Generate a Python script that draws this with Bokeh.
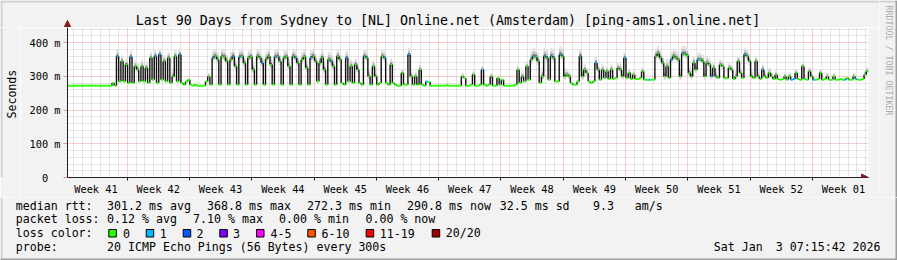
import math
from datetime import datetime, timedelta

from bokeh.plotting import figure
from bokeh.layouts import column, row
from bokeh.models import FixedTicker, Arrow, NormalHead, Range1d, ColumnDataSource
from bokeh.core.properties import value
from bokeh.embed import file_html
from bokeh.resources import INLINE

# ---------------------------------------------------------------- data
TITLE = "Last 90 Days from Sydney to [NL] Online.net (Amsterdam) [ping-ams1.online.net]"
END_TIME = datetime(2026, 1, 3, 7, 15, 42)
N_DAYS = 90
SLOTS_PER_DAY = 4          # one median value per 6 hours

# median rtt (ms), one row per day, 4 six-hour values per row
median_ms = [
    [272, 272, 272, 272], [272, 272, 272, 272], [272, 272, 273, 272], [272, 272, 272, 272],
    [272, 272, 272, 272], [280, 272, 360, 285], [345, 285, 335, 280], [358, 280, 330, 320],
    [285, 330, 285, 325], [280, 355, 290, 360], [280, 365, 290, 345], [285, 355, 280, 300],
    [360, 285, 365, 280], [275, 285, 290, 275], [272, 275, 272, 272], [272, 272, 285, 300],
    [275, 355, 360, 350], [275, 360, 358, 345], [275, 350, 360, 330], [275, 358, 360, 340],
    [275, 355, 358, 320], [275, 360, 355, 340], [275, 352, 360, 335], [275, 358, 360, 345],
    [275, 355, 358, 330], [275, 360, 355, 340], [275, 350, 358, 325], [275, 355, 360, 345],
    [285, 340, 355, 320], [275, 350, 345, 330], [275, 360, 350, 280], [275, 355, 285, 330],
    [280, 335, 320, 280], [275, 360, 355, 300], [275, 330, 300, 275], [280, 360, 355, 280],
    [275, 335, 280, 275], [272, 272, 310, 275], [275, 365, 300, 275], [300, 275, 320, 275],
    [272, 285, 283, 272], [272, 272, 272, 272], [272, 272, 274, 272], [272, 272, 272, 272],
    [272, 300, 295, 272], [272, 275, 305, 272], [272, 275, 320, 275], [272, 275, 300, 272],
    [272, 295, 275, 290], [272, 272, 272, 272], [272, 275, 320, 280], [300, 285, 330, 290],
    [350, 360, 358, 345], [280, 300, 360, 355], [290, 360, 355, 285], [285, 365, 360, 300],
    [305, 300, 280, 275], [275, 285, 360, 300], [320, 310, 285, 280], [285, 340, 320, 290],
    [320, 295, 315, 292], [320, 292, 295, 325], [320, 300, 355, 295], [310, 292, 305, 292],
    [292, 295, 315, 290], [290, 290, 290, 290], [360, 368, 355, 340], [300, 330, 295, 350],
    [360, 355, 350, 300], [368, 366, 362, 310], [300, 340, 320, 350], [350, 345, 300, 340],
    [335, 300, 325, 300], [295, 335, 330, 295], [295, 325, 320, 292], [300, 345, 310, 295],
    [365, 360, 345, 300], [295, 345, 300, 292], [320, 300, 295, 310], [300, 292, 305, 292],
    [290, 292, 300, 290], [300, 290, 292, 310], [292, 290, 330, 292], [290, 315, 300, 290],
    [290, 292, 310, 290], [292, 300, 290, 290], [300, 290, 290, 292], [290, 290, 295, 290],
    [290, 300, 292, 290], [290, 292, 305, 315],
]

# (day, slot) samples where 1 of 20 pings was lost
loss1_samples = [
    (5, 2), (7, 0), (9, 3), (10, 1), (12, 2), (16, 1), (18, 2), (19, 1), (21, 3), (23, 1),
    (25, 2), (27, 1), (29, 2), (31, 1), (33, 1), (35, 2), (38, 1), (40, 1), (46, 2), (52, 1),
    (53, 2), (54, 1), (55, 1), (57, 2), (59, 1), (62, 2), (65, 1), (67, 3), (69, 0), (70, 3),
    (72, 1), (76, 0), (78, 0), (81, 1), (81, 2), (83, 3), (87, 1), (88, 2),
]

# approximate ping spread (ms) per day, drawn as smoke
smoke_spread_ms = [
    4, 4, 4, 4, 4, 18, 18, 18, 18, 18,
    18, 18, 18, 10, 6, 10, 22, 22, 22, 22,
    22, 22, 22, 22, 22, 22, 22, 22, 24, 24,
    20, 20, 18, 20, 18, 20, 18, 12, 20, 15,
    10, 4, 4, 4, 10, 12, 12, 10, 10, 6,
    12, 15, 25, 25, 25, 25, 15, 22, 15, 18,
    15, 15, 18, 12, 12, 6, 22, 22, 22, 24,
    20, 20, 18, 16, 15, 16, 20, 15, 15, 12,
    12, 12, 12, 12, 12, 10, 10, 10, 10, 12,
]

y_ticks = [0, 100, 200, 300, 400]
y_tick_labels = ["0\u00a0\u00a0", "100 m", "200 m", "300 m", "400 m"]
week_labels = ["Week 41", "Week 42", "Week 43", "Week 44", "Week 45", "Week 46", "Week 47",
               "Week 48", "Week 49", "Week 50", "Week 51", "Week 52", "Week 01"]

loss_labels = ["0", "1", "2", "3", "4-5", "6-10", "11-19", "20/20"]
loss_colors = ["#26ff00", "#00b8ff", "#0059ff", "#7e00ff", "#ff00ff", "#ff5500", "#ff0000", "#a10000"]

legend_rtt = ["median rtt:", "301.2 ms avg", "368.8 ms max", "272.3 ms min", "290.8 ms now",
              "32.5 ms sd", "9.3", "am/s"]
legend_loss = ["packet loss:", "0.12 % avg", "7.10 % max", "0.00 % min", "0.00 % now"]
legend_probe = ["probe:", "20 ICMP Echo Pings (56 Bytes) every 300s"]
date_parts = ["Sat Jan", "3 07:15:42 2026"]
watermark = "RRDTOOL / TOBI OETIKER"
y_title = "Seconds"

# ---------------------------------------------------------------- layout (pixels)
W, H = 897, 260
FL, FR, FT, FB = 67, 868, 27, 179      # plot area in page pixels
TOP_H = 197                            # graph part (title + plot + week labels)
RIGHT_X = 879                          # start of the watermark strip
LEFT_W = 20                            # strip holding the y title
Y_MAX = 445
MONO = "DejaVu Sans Mono"
BACK = "#f2f2f2"
SHADE_A, SHADE_B = "#cfcfcf", "#9e9e9e"
ARROW_C = "#801f1f"
BASE_FIX = 3.0                         # alphabetic baseline correction of the renderer

start_time = END_TIME - timedelta(days=N_DAYS)


def day_offset(t):
    return (t - start_time).total_seconds() / 86400.0


first_midnight = datetime(start_time.year, start_time.month, start_time.day) + timedelta(days=1)
midnights = [day_offset(first_midnight + timedelta(days=k)) for k in range(N_DAYS)]
midnights = [m for m in midnights if m < N_DAYS]
first_sunday = first_midnight
while first_sunday.weekday() != 6:
    first_sunday += timedelta(days=1)
sundays = [day_offset(first_sunday + timedelta(days=7 * k)) for k in range(14)]
sundays = [s for s in sundays if s < N_DAYS]
week_pos = [round(day_offset(first_sunday) - 3.5 + 7 * k, 4) for k in range(len(week_labels))]
minor_days = [m for m in midnights if all(abs(m - s) > 1e-6 for s in sundays)]

# ---------------------------------------------------------------- series
loss1 = set(loss1_samples)
t0, t1, med, col, lw = [], [], [], [], []
for d, day_vals in enumerate(median_ms):
    for s, v in enumerate(day_vals):
        j = d * SLOTS_PER_DAY + s
        t0.append(j / SLOTS_PER_DAY)
        t1.append((j + 1) / SLOTS_PER_DAY)
        med.append(v)
        col.append(loss_colors[1] if (d, s) in loss1 else loss_colors[0])
        lw.append(2.0 if v < 300 else 1.3)

vx, vy0, vy1 = [], [], []
for j in range(1, len(med)):
    if med[j] != med[j - 1]:
        vx.append(t0[j])
        vy0.append(med[j - 1])
        vy1.append(med[j])

layers = [(0.5, 1.0, "#e2e2e2"), (0.25, 0.55, "#c0c0c0"), (0.1, 0.22, "#5a5a5a")]
smoke = {k: ([], [], [], []) for k in range(len(layers))}
for j, v in enumerate(med):
    if v < 300:
        continue
    sp = smoke_spread_ms[j // SLOTS_PER_DAY]
    for k, (lo, hi, _) in enumerate(layers):
        smoke[k][0].append(t0[j])
        smoke[k][1].append(t1[j])
        smoke[k][2].append(v - lo * sp)
        smoke[k][3].append(v + hi * sp)

# ---------------------------------------------------------------- main graph
gw = RIGHT_X - LEFT_W
gh = TOP_H - FT
p = figure(width=gw, height=gh, x_range=(0, N_DAYS), y_range=(0, Y_MAX),
           toolbar_location=None, output_backend="svg", title=None,
           min_border_left=FL - LEFT_W, min_border_right=RIGHT_X - FR, min_border_top=0,
           min_border_bottom=TOP_H - FB, background_fill_color="white",
           border_fill_color=BACK, outline_line_color=None)

p.xaxis.ticker = FixedTicker(ticks=week_pos, minor_ticks=sundays)
p.xaxis.major_label_overrides = {pos: lab for pos, lab in zip(week_pos, week_labels)}
p.xaxis.axis_line_color = "#1f1f1f"
p.xaxis.major_tick_out = 0
p.xaxis.major_tick_in = 0
p.xaxis.major_tick_line_color = None
p.xaxis.minor_tick_out = 3
p.xaxis.minor_tick_in = 0
p.xaxis.minor_tick_line_color = "#1f1f1f"
p.xaxis.major_label_standoff = 2
p.xaxis.major_label_text_font = MONO
p.xaxis.major_label_text_font_size = "10.3px"
p.xaxis.major_label_text_color = "black"

p.yaxis.ticker = FixedTicker(ticks=y_ticks)
p.yaxis.major_label_overrides = {t: lab for t, lab in zip(y_ticks, y_tick_labels)}
p.yaxis.axis_line_color = "#1f1f1f"
p.yaxis.major_tick_out = 4
p.yaxis.major_tick_in = 0
p.yaxis.major_tick_line_color = "#de4f4f"
p.yaxis.major_tick_line_alpha = 0.6
p.yaxis.minor_tick_line_color = None
p.yaxis.major_label_standoff = 3
p.yaxis.major_label_text_font = MONO
p.yaxis.major_label_text_font_size = "10.3px"
p.yaxis.major_label_text_color = "black"

p.xgrid.ticker = FixedTicker(ticks=sundays, minor_ticks=minor_days)
p.ygrid.ticker = FixedTicker(ticks=[100, 200, 300, 400],
                             minor_ticks=[v for v in range(20, 441, 20) if v % 100])
for g in (p.xgrid, p.ygrid):
    g.grid_line_color = "#de4f4f"
    g.grid_line_alpha = 0.55
    g.grid_line_dash = "1 1"
    g.minor_grid_line_color = "#8f8f8f"
    g.minor_grid_line_alpha = 0.45
    g.minor_grid_line_dash = "1 1"

for k, (_, _, c) in enumerate(layers):
    l, r, b, t = smoke[k]
    p.quad(left=l, right=r, bottom=b, top=t, fill_color=c, line_color=None)

p.segment(x0=vx, y0=vy0, x1=vx, y1=vy1, line_color="#111111", line_width=1.4)
p.segment(x0=t0, y0=med, x1=t1, y1=med, line_color=col, line_width=lw)

p.add_layout(Arrow(x_start=N_DAYS - 0.8, y_start=0, x_end=N_DAYS, y_end=0,
                   line_color=None,
                   end=NormalHead(size=7, fill_color=ARROW_C, line_color=ARROW_C)))


# ---------------------------------------------------------------- text strips
def strip(w, h):
    f = figure(width=w, height=h, x_range=Range1d(0, w), y_range=Range1d(h, 0),
               toolbar_location=None, output_backend="svg", title=None,
               x_axis_location=None, y_axis_location=None, min_border=0,
               background_fill_color=BACK, border_fill_color=BACK, outline_line_color=None)
    f.grid.visible = False
    return f


def put_text(f, xs, ys, texts, size="11.6px", align="left", angle=0.0, color="black"):
    src = ColumnDataSource(dict(x=xs, y=ys, t=texts))
    f.text(x="x", y="y", text="t", source=src, text_font=value(MONO), text_font_size=size,
           text_align=align, text_baseline="alphabetic", angle=angle, text_color=color)


def band(f, x0, y0, x1, y1, color, line=None):
    f.quad(left=[x0], right=[x1], top=[y0], bottom=[y1], fill_color=color,
           line_color=line, line_width=1)


# title strip (page y 0..27, x 0..RIGHT_X)
top = strip(RIGHT_X, FT)
put_text(top, [447.5], [23.3 - BASE_FIX], [TITLE], size="13.3px", align="center")
band(top, 0, 0, RIGHT_X, 2, SHADE_A)
band(top, 0, 0, 2, FT, SHADE_A)
top.patch(x=[FL - 3.5, FL + 3.5, FL], y=[FT, FT, FT - 7], fill_color=ARROW_C, line_color=ARROW_C)

# y title strip (page x 0..LEFT_W, y 27..197)
left = strip(LEFT_W, gh)
put_text(left, [14 - BASE_FIX], [102.5 - FT], [y_title], align="center", angle=math.pi / 2)
band(left, 0, 0, 2, gh, SHADE_A)

# watermark strip (page x RIGHT_X..897, y 0..197)
right = strip(W - RIGHT_X, TOP_H)
put_text(right, [885 + BASE_FIX - RIGHT_X], [5], [watermark], size="8.3px", angle=-math.pi / 2,
         color="#aaaaaa")
band(right, 0, 0, W - RIGHT_X, 2, SHADE_A)
band(right, W - RIGHT_X - 2, 0, W - RIGHT_X, TOP_H, SHADE_B)

# legend strip (page y 197..260)
lh = H - TOP_H
leg = strip(W, lh)
rows_y = [208.3, 221.9, 235.5, 249.1]
rows_y = [y - BASE_FIX - TOP_H for y in rows_y]
rtt_x = [16, 107.3, 207.3, 307.3, 407.3, 500, 593.3, 635]
loss_x = [16, 107.3, 193.3, 279.3, 365.7]
box_x = [108.3, 145.7, 182.7, 219.3, 256, 307.3, 365.7, 431.7]
lab_x = [123.3, 160, 196.7, 233.3, 270.7, 321.7, 380, 446]
probe_x = [16, 107.3]

put_text(leg, [x - 0.7 for x in rtt_x], [rows_y[0]] * len(rtt_x), legend_rtt)
put_text(leg, [x - 0.7 for x in loss_x], [rows_y[1]] * len(loss_x), legend_loss)
put_text(leg, [16 - 0.7] + [x - 0.7 for x in lab_x], [rows_y[2]] * (1 + len(lab_x)),
         ["loss color:"] + loss_labels)
leg.quad(left=box_x, right=[b + 7.5 for b in box_x], top=[229 - TOP_H] * len(box_x),
         bottom=[236.5 - TOP_H] * len(box_x), fill_color=loss_colors, line_color="black",
         line_width=1)
put_text(leg, [x - 0.7 for x in probe_x], [rows_y[3]] * 2, legend_probe)
put_text(leg, [714 - 0.7], [rows_y[3]], [date_parts[0]])
put_text(leg, [880], [rows_y[3]], [date_parts[1]], align="right")
band(leg, 0, 0, 2, lh, SHADE_A)
band(leg, 0, lh - 2, W, lh, SHADE_B)
band(leg, W - 2, 0, W, lh, SHADE_B)

page = column(row(column(top, row(left, p)), right), leg)
open("out.html", "w").write(file_html(page, INLINE))
